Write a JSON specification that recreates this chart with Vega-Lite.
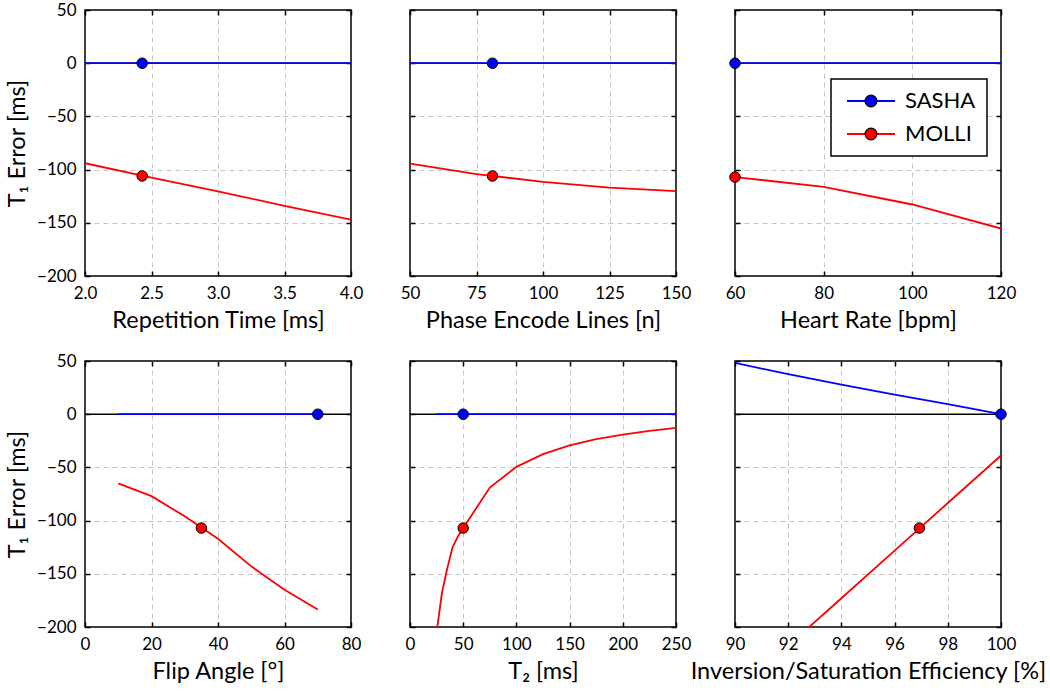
{
  "$schema": "https://vega.github.io/schema/vega-lite/v6.json",
  "background": "white",
  "padding": {"left": 4, "top": 0, "right": 2, "bottom": 5},
  "datasets": {
    "zero": [{"err": 0}],
    "tr_lines": [
      {"x": 2.0, "err": 0, "method": "SASHA"}, {"x": 4.0, "err": 0, "method": "SASHA"},
      {"x": 2.0, "err": -94, "method": "MOLLI"}, {"x": 2.5, "err": -107.5, "method": "MOLLI"},
      {"x": 3.0, "err": -120.5, "method": "MOLLI"}, {"x": 3.5, "err": -134, "method": "MOLLI"},
      {"x": 4.0, "err": -147, "method": "MOLLI"}
    ],
    "tr_pts": [{"x": 2.43, "err": 0, "method": "SASHA"}, {"x": 2.43, "err": -106, "method": "MOLLI"}],
    "pe_lines": [
      {"x": 50, "err": 0, "method": "SASHA"}, {"x": 150, "err": 0, "method": "SASHA"},
      {"x": 50, "err": -94.3, "method": "MOLLI"}, {"x": 75, "err": -104.2, "method": "MOLLI"},
      {"x": 100, "err": -111.5, "method": "MOLLI"}, {"x": 125, "err": -117, "method": "MOLLI"},
      {"x": 150, "err": -120.3, "method": "MOLLI"}
    ],
    "pe_pts": [{"x": 81, "err": 0, "method": "SASHA"}, {"x": 81, "err": -106, "method": "MOLLI"}],
    "hr_lines": [
      {"x": 60, "err": 0, "method": "SASHA"}, {"x": 120, "err": 0, "method": "SASHA"},
      {"x": 60, "err": -107, "method": "MOLLI"}, {"x": 80, "err": -116.2, "method": "MOLLI"},
      {"x": 100, "err": -132.8, "method": "MOLLI"}, {"x": 120, "err": -155.4, "method": "MOLLI"}
    ],
    "hr_pts": [{"x": 60, "err": 0, "method": "SASHA"}, {"x": 60, "err": -107, "method": "MOLLI"}],
    "fa_lines": [
      {"x": 10, "err": 0, "method": "SASHA"}, {"x": 70, "err": 0, "method": "SASHA"},
      {"x": 10, "err": -65, "method": "MOLLI"}, {"x": 20, "err": -77, "method": "MOLLI"},
      {"x": 30, "err": -96, "method": "MOLLI"}, {"x": 40, "err": -117, "method": "MOLLI"},
      {"x": 50, "err": -143, "method": "MOLLI"}, {"x": 60, "err": -165, "method": "MOLLI"},
      {"x": 70, "err": -183.5, "method": "MOLLI"}
    ],
    "fa_pts": [{"x": 70, "err": 0, "method": "SASHA"}, {"x": 35, "err": -107, "method": "MOLLI"}],
    "t2_lines": [
      {"x": 25, "err": 0, "method": "SASHA"}, {"x": 250, "err": 0, "method": "SASHA"},
      {"x": 25, "err": -205, "method": "MOLLI"}, {"x": 30, "err": -168, "method": "MOLLI"},
      {"x": 35, "err": -145, "method": "MOLLI"}, {"x": 40, "err": -125, "method": "MOLLI"},
      {"x": 45, "err": -115, "method": "MOLLI"}, {"x": 50, "err": -107, "method": "MOLLI"},
      {"x": 75, "err": -69, "method": "MOLLI"}, {"x": 100, "err": -49.5, "method": "MOLLI"},
      {"x": 125, "err": -37.6, "method": "MOLLI"}, {"x": 150, "err": -29.4, "method": "MOLLI"},
      {"x": 175, "err": -23.5, "method": "MOLLI"}, {"x": 200, "err": -19.1, "method": "MOLLI"},
      {"x": 225, "err": -15.7, "method": "MOLLI"}, {"x": 250, "err": -12.8, "method": "MOLLI"}
    ],
    "t2_pts": [{"x": 50, "err": 0, "method": "SASHA"}, {"x": 50, "err": -107, "method": "MOLLI"}],
    "eff_lines": [
      {"x": 90, "err": 48.2, "method": "SASHA"}, {"x": 92, "err": 37.6, "method": "SASHA"},
      {"x": 94, "err": 27.9, "method": "SASHA"}, {"x": 96, "err": 18.5, "method": "SASHA"},
      {"x": 98, "err": 9.4, "method": "SASHA"}, {"x": 100, "err": 0, "method": "SASHA"},
      {"x": 92, "err": -217.6, "method": "MOLLI"}, {"x": 94, "err": -173, "method": "MOLLI"},
      {"x": 96, "err": -128.2, "method": "MOLLI"}, {"x": 98, "err": -83.5, "method": "MOLLI"},
      {"x": 100, "err": -38.8, "method": "MOLLI"}
    ],
    "eff_pts": [{"x": 100, "err": 0, "method": "SASHA"}, {"x": 96.93, "err": -107, "method": "MOLLI"}]
  },
  "columns": 3,
  "spacing": {"row": 85, "column": 59},
  "bounds": "flush",
  "resolve": {
    "scale": {"stroke": "independent", "fill": "independent"},
    "legend": {"stroke": "independent", "fill": "independent"}
  },
  "concat": [
    {
      "width": 266, "height": 266,
      "layer": [
        {"data": {"name": "zero"}, "mark": {"type": "rule", "stroke": "black", "strokeWidth": 1.5},
         "encoding": {"y": {"field": "err", "type": "quantitative", "scale": {"domain": [-200, 50], "nice": false}, "axis": null}}},
        {"data": {"name": "tr_lines"}, "mark": {"type": "line", "strokeWidth": 1.8, "clip": true},
         "encoding": {
           "x": {"field": "x", "type": "quantitative", "scale": {"domain": [2, 4], "nice": false, "zero": false}, "axis": {"values": [2, 2.5, 3, 3.5, 4], "format": ".1f", "title": "Repetition Time [ms]", "grid": true, "gridOpacity": {"condition": {"test": "datum.index === 0 || datum.index === 1", "value": 0}, "value": 1}}},
           "y": {"field": "err", "type": "quantitative", "scale": {"domain": [-200, 50], "nice": false}, "axis": {"values": [-200, -150, -100, -50, 0, 50], "title": "T₁ Error [ms]", "grid": true, "gridOpacity": {"condition": {"test": "datum.index === 0 || datum.index === 1", "value": 0}, "value": 1}}},
           "stroke": {"field": "method", "type": "nominal", "sort": "descending", "scale": {"range": ["#0000ff", "#ff0000"]}, "legend": null}
         }},
        {"data": {"name": "tr_pts"}, "mark": {"type": "circle", "size": 110, "stroke": "black", "strokeWidth": 1, "opacity": 1},
         "encoding": {
           "x": {"field": "x", "type": "quantitative", "scale": {"domain": [2, 4], "nice": false, "zero": false}, "axis": {"orient": "top", "values": [2, 2.5, 3, 3.5, 4], "labels": false, "title": null, "grid": false}},
           "y": {"field": "err", "type": "quantitative", "scale": {"domain": [-200, 50], "nice": false}, "axis": {"orient": "right", "values": [-200, -150, -100, -50, 0, 50], "labels": false, "title": null, "grid": false}},
           "fill": {"field": "method", "type": "nominal", "sort": "descending", "scale": {"range": ["#0000ff", "#ff0000"]}, "legend": null}
         }}
      ],
      "resolve": {"axis": {"x": "independent", "y": "independent"}}
    },
    {
      "width": 266, "height": 266,
      "layer": [
        {"data": {"name": "zero"}, "mark": {"type": "rule", "stroke": "black", "strokeWidth": 1.5},
         "encoding": {"y": {"field": "err", "type": "quantitative", "scale": {"domain": [-200, 50], "nice": false}, "axis": null}}},
        {"data": {"name": "pe_lines"}, "mark": {"type": "line", "strokeWidth": 1.8, "clip": true},
         "encoding": {
           "x": {"field": "x", "type": "quantitative", "scale": {"domain": [50, 150], "nice": false, "zero": false}, "axis": {"values": [50, 75, 100, 125, 150], "title": "Phase Encode Lines [n]", "grid": true, "gridOpacity": {"condition": {"test": "datum.index === 0 || datum.index === 1", "value": 0}, "value": 1}}},
           "y": {"field": "err", "type": "quantitative", "scale": {"domain": [-200, 50], "nice": false}, "axis": {"values": [-200, -150, -100, -50, 0, 50], "labels": false, "title": null, "grid": true, "gridOpacity": {"condition": {"test": "datum.index === 0 || datum.index === 1", "value": 0}, "value": 1}}},
           "stroke": {"field": "method", "type": "nominal", "sort": "descending", "scale": {"range": ["#0000ff", "#ff0000"]}, "legend": null}
         }},
        {"data": {"name": "pe_pts"}, "mark": {"type": "circle", "size": 110, "stroke": "black", "strokeWidth": 1, "opacity": 1},
         "encoding": {
           "x": {"field": "x", "type": "quantitative", "scale": {"domain": [50, 150], "nice": false, "zero": false}, "axis": {"orient": "top", "values": [50, 75, 100, 125, 150], "labels": false, "title": null, "grid": false}},
           "y": {"field": "err", "type": "quantitative", "scale": {"domain": [-200, 50], "nice": false}, "axis": {"orient": "right", "values": [-200, -150, -100, -50, 0, 50], "labels": false, "title": null, "grid": false}},
           "fill": {"field": "method", "type": "nominal", "sort": "descending", "scale": {"range": ["#0000ff", "#ff0000"]}, "legend": null}
         }}
      ],
      "resolve": {"axis": {"x": "independent", "y": "independent"}}
    },
    {
      "width": 266, "height": 266,
      "layer": [
        {"data": {"name": "zero"}, "mark": {"type": "rule", "stroke": "black", "strokeWidth": 1.5},
         "encoding": {"y": {"field": "err", "type": "quantitative", "scale": {"domain": [-200, 50], "nice": false}, "axis": null}}},
        {"data": {"name": "hr_lines"}, "mark": {"type": "line", "strokeWidth": 1.8, "clip": true},
         "encoding": {
           "x": {"field": "x", "type": "quantitative", "scale": {"domain": [60, 120], "nice": false, "zero": false}, "axis": {"values": [60, 80, 100, 120], "title": "Heart Rate [bpm]", "grid": true, "gridOpacity": {"condition": {"test": "datum.index === 0 || datum.index === 1", "value": 0}, "value": 1}}},
           "y": {"field": "err", "type": "quantitative", "scale": {"domain": [-200, 50], "nice": false}, "axis": {"values": [-200, -150, -100, -50, 0, 50], "labels": false, "title": null, "grid": true, "gridOpacity": {"condition": {"test": "datum.index === 0 || datum.index === 1", "value": 0}, "value": 1}}},
           "stroke": {"field": "method", "type": "nominal", "sort": "descending", "scale": {"range": ["#0000ff", "#ff0000"]},
             "legend": {"orient": "none", "legendX": 96, "legendY": 69, "title": null, "symbolType": "M-1,0L7,0", "symbolSize": 144, "symbolStrokeWidth": 2, "labelFontSize": 22, "labelFont": "Lato", "labelColor": "black", "labelOffset": 41, "padding": 11, "rowPadding": 11, "strokeColor": "black", "fillColor": "white", "zindex": 0}}
         }},
        {"data": {"name": "hr_pts"}, "mark": {"type": "circle", "size": 110, "stroke": "black", "strokeWidth": 1, "opacity": 1},
         "encoding": {
           "x": {"field": "x", "type": "quantitative", "scale": {"domain": [60, 120], "nice": false, "zero": false}, "axis": {"orient": "top", "values": [60, 80, 100, 120], "labels": false, "title": null, "grid": false}},
           "y": {"field": "err", "type": "quantitative", "scale": {"domain": [-200, 50], "nice": false}, "axis": {"orient": "right", "values": [-200, -150, -100, -50, 0, 50], "labels": false, "title": null, "grid": false}},
           "fill": {"field": "method", "type": "nominal", "sort": "descending", "scale": {"range": ["#0000ff", "#ff0000"]},
             "legend": {"orient": "none", "legendX": 96, "legendY": 69, "title": null, "symbolType": "M2.02,0A0.98,0.98 0 1,1 3.98,0A0.98,0.98 0 1,1 2.02,0Z", "symbolSize": 144, "symbolStrokeColor": "black", "symbolStrokeWidth": 1.2, "symbolOpacity": 1, "labelFontSize": 22, "labelFont": "Lato", "labelOffset": 41, "labelOpacity": 0, "padding": 11, "rowPadding": 11, "zindex": 1}}
         }}
      ],
      "resolve": {"axis": {"x": "independent", "y": "independent"}}
    },
    {
      "width": 266, "height": 266,
      "layer": [
        {"data": {"name": "zero"}, "mark": {"type": "rule", "stroke": "black", "strokeWidth": 1.5},
         "encoding": {"y": {"field": "err", "type": "quantitative", "scale": {"domain": [-200, 50], "nice": false}, "axis": null}}},
        {"data": {"name": "fa_lines"}, "mark": {"type": "line", "strokeWidth": 1.8, "clip": true},
         "encoding": {
           "x": {"field": "x", "type": "quantitative", "scale": {"domain": [0, 80], "nice": false}, "axis": {"values": [0, 20, 40, 60, 80], "title": "Flip Angle [°]", "grid": true, "gridOpacity": {"condition": {"test": "datum.index === 0 || datum.index === 1", "value": 0}, "value": 1}}},
           "y": {"field": "err", "type": "quantitative", "scale": {"domain": [-200, 50], "nice": false}, "axis": {"values": [-200, -150, -100, -50, 0, 50], "title": "T₁ Error [ms]", "grid": true, "gridOpacity": {"condition": {"test": "datum.index === 0 || datum.index === 1", "value": 0}, "value": 1}}},
           "stroke": {"field": "method", "type": "nominal", "sort": "descending", "scale": {"range": ["#0000ff", "#ff0000"]}, "legend": null}
         }},
        {"data": {"name": "fa_pts"}, "mark": {"type": "circle", "size": 110, "stroke": "black", "strokeWidth": 1, "opacity": 1},
         "encoding": {
           "x": {"field": "x", "type": "quantitative", "scale": {"domain": [0, 80], "nice": false}, "axis": {"orient": "top", "values": [0, 20, 40, 60, 80], "labels": false, "title": null, "grid": false}},
           "y": {"field": "err", "type": "quantitative", "scale": {"domain": [-200, 50], "nice": false}, "axis": {"orient": "right", "values": [-200, -150, -100, -50, 0, 50], "labels": false, "title": null, "grid": false}},
           "fill": {"field": "method", "type": "nominal", "sort": "descending", "scale": {"range": ["#0000ff", "#ff0000"]}, "legend": null}
         }}
      ],
      "resolve": {"axis": {"x": "independent", "y": "independent"}}
    },
    {
      "width": 266, "height": 266,
      "layer": [
        {"data": {"name": "zero"}, "mark": {"type": "rule", "stroke": "black", "strokeWidth": 1.5},
         "encoding": {"y": {"field": "err", "type": "quantitative", "scale": {"domain": [-200, 50], "nice": false}, "axis": null}}},
        {"data": {"name": "t2_lines"}, "mark": {"type": "line", "strokeWidth": 1.8, "clip": true},
         "encoding": {
           "x": {"field": "x", "type": "quantitative", "scale": {"domain": [0, 250], "nice": false}, "axis": {"values": [0, 50, 100, 150, 200, 250], "title": "T₂ [ms]", "grid": true, "gridOpacity": {"condition": {"test": "datum.index === 0 || datum.index === 1", "value": 0}, "value": 1}}},
           "y": {"field": "err", "type": "quantitative", "scale": {"domain": [-200, 50], "nice": false}, "axis": {"values": [-200, -150, -100, -50, 0, 50], "labels": false, "title": null, "grid": true, "gridOpacity": {"condition": {"test": "datum.index === 0 || datum.index === 1", "value": 0}, "value": 1}}},
           "stroke": {"field": "method", "type": "nominal", "sort": "descending", "scale": {"range": ["#0000ff", "#ff0000"]}, "legend": null}
         }},
        {"data": {"name": "t2_pts"}, "mark": {"type": "circle", "size": 110, "stroke": "black", "strokeWidth": 1, "opacity": 1},
         "encoding": {
           "x": {"field": "x", "type": "quantitative", "scale": {"domain": [0, 250], "nice": false}, "axis": {"orient": "top", "values": [0, 50, 100, 150, 200, 250], "labels": false, "title": null, "grid": false}},
           "y": {"field": "err", "type": "quantitative", "scale": {"domain": [-200, 50], "nice": false}, "axis": {"orient": "right", "values": [-200, -150, -100, -50, 0, 50], "labels": false, "title": null, "grid": false}},
           "fill": {"field": "method", "type": "nominal", "sort": "descending", "scale": {"range": ["#0000ff", "#ff0000"]}, "legend": null}
         }}
      ],
      "resolve": {"axis": {"x": "independent", "y": "independent"}}
    },
    {
      "width": 266, "height": 266,
      "layer": [
        {"data": {"name": "zero"}, "mark": {"type": "rule", "stroke": "black", "strokeWidth": 1.5},
         "encoding": {"y": {"field": "err", "type": "quantitative", "scale": {"domain": [-200, 50], "nice": false}, "axis": null}}},
        {"data": {"name": "eff_lines"}, "mark": {"type": "line", "strokeWidth": 1.8, "clip": true},
         "encoding": {
           "x": {"field": "x", "type": "quantitative", "scale": {"domain": [90, 100], "nice": false, "zero": false}, "axis": {"values": [90, 92, 94, 96, 98, 100], "title": "Inversion/Saturation Efficiency [%]", "grid": true, "gridOpacity": {"condition": {"test": "datum.index === 0 || datum.index === 1", "value": 0}, "value": 1}}},
           "y": {"field": "err", "type": "quantitative", "scale": {"domain": [-200, 50], "nice": false}, "axis": {"values": [-200, -150, -100, -50, 0, 50], "labels": false, "title": null, "grid": true, "gridOpacity": {"condition": {"test": "datum.index === 0 || datum.index === 1", "value": 0}, "value": 1}}},
           "stroke": {"field": "method", "type": "nominal", "sort": "descending", "scale": {"range": ["#0000ff", "#ff0000"]}, "legend": null}
         }},
        {"data": {"name": "eff_pts"}, "mark": {"type": "circle", "size": 110, "stroke": "black", "strokeWidth": 1, "opacity": 1},
         "encoding": {
           "x": {"field": "x", "type": "quantitative", "scale": {"domain": [90, 100], "nice": false, "zero": false}, "axis": {"orient": "top", "values": [90, 92, 94, 96, 98, 100], "labels": false, "title": null, "grid": false}},
           "y": {"field": "err", "type": "quantitative", "scale": {"domain": [-200, 50], "nice": false}, "axis": {"orient": "right", "values": [-200, -150, -100, -50, 0, 50], "labels": false, "title": null, "grid": false}},
           "fill": {"field": "method", "type": "nominal", "sort": "descending", "scale": {"range": ["#0000ff", "#ff0000"]}, "legend": null}
         }}
      ],
      "resolve": {"axis": {"x": "independent", "y": "independent"}}
    }
  ],
  "config": {
    "font": "Lato",
    "view": {"stroke": "black", "strokeWidth": 1.5},
    "axis": {
      "domain": false, "grid": true, "gridColor": "#c4c4c4", "gridDash": [5, 4], "gridWidth": 1,
      "ticks": true, "tickColor": "black", "tickSize": -5, "tickWidth": 1.5,
      "labelFont": "Lato", "labelFontSize": 17, "labelColor": "black", "labelPadding": 14,
      "labelFlush": false, "labelOverlap": false,
      "titleFont": "Lato", "titleFontSize": 23.5, "titleFontWeight": "normal", "titleColor": "black", "titlePadding": 7
    },
    "legend": {"strokeWidth": 1.5}
  }
}
